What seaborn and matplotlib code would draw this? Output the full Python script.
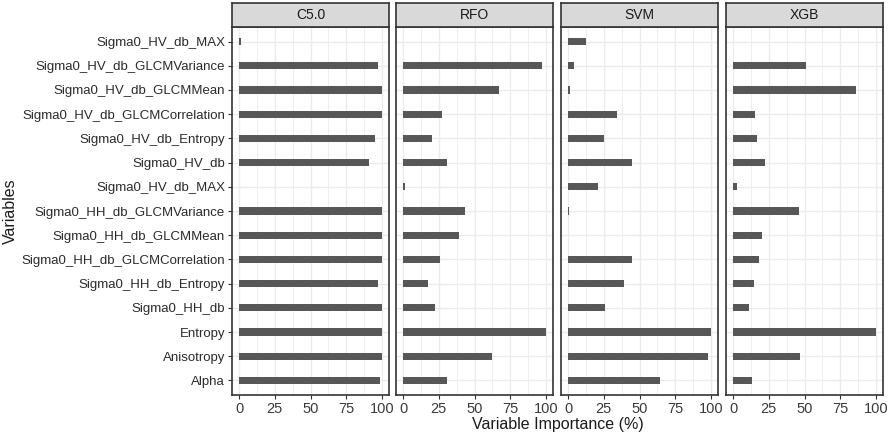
import numpy as np
import pandas as pd
import matplotlib
matplotlib.use("Agg")
import matplotlib.pyplot as plt
import seaborn as sns

sns.set_theme(style="white")
plt.rcParams['font.family'] = ['Liberation Sans', 'DejaVu Sans']

variables = [
    "Sigma0_HV_db_MAX",
    "Sigma0_HV_db_GLCMVariance",
    "Sigma0_HV_db_GLCMMean",
    "Sigma0_HV_db_GLCMCorrelation",
    "Sigma0_HV_db_Entropy",
    "Sigma0_HV_db",
    "Sigma0_HV_db_MAX",
    "Sigma0_HH_db_GLCMVariance",
    "Sigma0_HH_db_GLCMMean",
    "Sigma0_HH_db_GLCMCorrelation",
    "Sigma0_HH_db_Entropy",
    "Sigma0_HH_db",
    "Entropy",
    "Anisotropy",
    "Alpha",
]
models = ["C5.0", "RFO", "SVM", "XGB"]

c50 = [1.5, 97, 100, 100, 95.5, 91, 0, 100, 100, 100, 97, 100, 100, 100, 99]
rfo = [0, 97, 67, 27, 20.5, 31, 1, 43.5, 39, 25.5, 17.7, 22, 100, 62.5, 31]
svm = [12.4, 4, 1.5, 34, 25, 45, 21, 0.7, 0, 45, 39, 25.7, 100, 98, 64.7]
xgb = [0, 51, 86, 15.3, 16.7, 22, 2.5, 46, 20.5, 18.4, 14.6, 10.8, 100, 46.6, 13]
values = {"C5.0": c50, "RFO": rfo, "SVM": svm, "XGB": xgb}

# unique keys so duplicated labels stay separate rows
keys = [f"v{i:02d}" for i in range(len(variables))]
rows = []
for m in models:
    for k, v in zip(keys, values[m]):
        rows.append({"model": m, "key": k, "importance": v})
df = pd.DataFrame(rows)

W, H = 892, 441
fig = plt.figure(figsize=(W / 100, H / 100), dpi=100)

lefts = [232, 396, 561, 726]
pw = 157
top_panel = 27
bottom_panel = 395
strip_top = 3

border_col = "#333333"
grid_col = "#EBEBEB"

for i, m in enumerate(models):
    x0 = lefts[i] / W
    ax = fig.add_axes([x0, 1 - bottom_panel / H, pw / W, (bottom_panel - top_panel) / H])
    sub = df[df.model == m]
    sns.barplot(data=sub, x="importance", y="key", order=keys, color="#575757",
                width=0.3, ax=ax, saturation=1, linewidth=0)
    ax.set_xlim(-5, 105)
    ax.set_ylim(len(keys) - 0.4, -0.6)
    ax.set_xticks([0, 25, 50, 75, 100])
    ax.set_xticks([12.5, 37.5, 62.5, 87.5], minor=True)
    ax.set_xticklabels(["0", "25", "50", "75", "100"])
    ax.grid(True, which="major", axis="both", color=grid_col, lw=1.0, zorder=0)
    ax.grid(True, which="minor", axis="x", color=grid_col, lw=0.6, zorder=0)
    ax.set_axisbelow(True)
    for s in ax.spines.values():
        s.set_color(border_col)
        s.set_linewidth(1.2)
    ax.tick_params(axis="x", which="major", length=3, width=0.8, color=border_col,
                   labelsize=10.5, labelcolor="#3a3a3a", pad=2, bottom=True)
    ax.tick_params(axis="x", which="minor", length=0)
    ax.set_xlabel("")
    ax.set_ylabel("")
    ax.set_yticks(range(len(keys)))
    if i == 0:
        ax.set_yticklabels(variables)
        ax.tick_params(axis="y", length=3, width=0.8, color=border_col,
                       labelsize=9.5, labelcolor="#2a2a2a", pad=2, left=True)
    else:
        ax.tick_params(axis="y", length=0, labelleft=False)
    # strip
    sax = fig.add_axes([x0, 1 - top_panel / H, pw / W, (top_panel - strip_top) / H])
    sax.set_facecolor("#D9D9D9")
    sax.set_xticks([])
    sax.set_yticks([])
    for s in sax.spines.values():
        s.set_color(border_col)
        s.set_linewidth(1.2)
    sax.text(0.5, 0.5, m, ha="center", va="center", fontsize=10, color="#1a1a1a",
             transform=sax.transAxes)

fig.text(558 / W, 1 - 425 / H, "Variable Importance (%)", ha="center", va="center",
         fontsize=11.5, color="#1a1a1a")
fig.text(10 / W, 1 - 211 / H, "Variables", ha="center", va="center", rotation=90,
         fontsize=11.5, color="#1a1a1a")

fig.savefig("out.png", dpi=100, facecolor="white")
